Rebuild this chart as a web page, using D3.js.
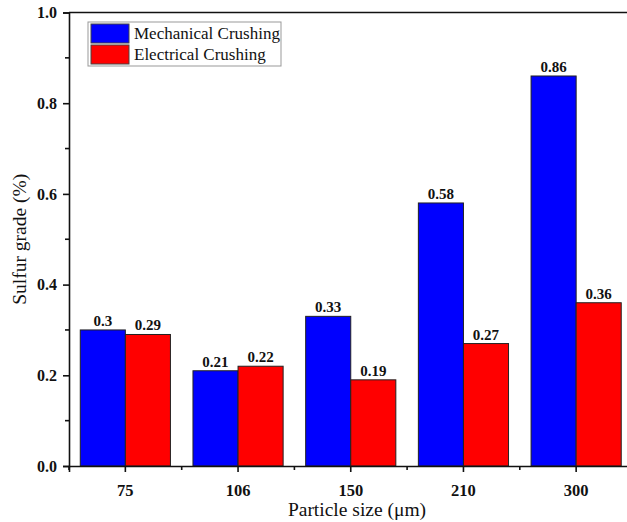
<!DOCTYPE html>
<html>
<head>
<meta charset="utf-8">
<script src="https://cdn.jsdelivr.net/npm/d3@7"></script>
<style>
  html, body { margin: 0; padding: 0; background: #fff; }
  svg { display: block; font-family: "Liberation Serif", "Times New Roman", serif; }
</style>
</head>
<body>
<svg id="chart" width="627" height="522"></svg>
<script>
// Particle size categories (µm)
const categories = ["75", "106", "150", "210", "300"];
// Series names and sulfur grade values (%)
const seriesNames = ["Mechanical Crushing", "Electrical Crushing"];
const mechanical = [0.3, 0.21, 0.33, 0.58, 0.86];
const electrical = [0.29, 0.22, 0.19, 0.27, 0.36];
const seriesColors = ["#0000ff", "#ff0000"];
const yTicks = [0.0, 0.2, 0.4, 0.6, 0.8, 1.0];
const yMinorTicks = [0.1, 0.3, 0.5, 0.7, 0.9];

const svg = d3.select("#chart");
const plotLeft = 69, plotTop = 12.5, plotBottom = 466, plotRight = 632.5;
const serif = "Liberation Serif, Times New Roman, serif";

const x0 = d3.scaleBand().domain(categories).range([plotLeft, plotRight]).padding(0);
const bw = x0.bandwidth();
const x1 = d3.scaleBand().domain(seriesNames).range([0.1 * bw, 0.9 * bw]).padding(0);
const y = d3.scaleLinear().domain([0, 1]).range([plotBottom, plotTop]);

const seriesValues = [mechanical, electrical];

// Bars
const groups = svg.append("g").selectAll("g")
  .data(categories)
  .join("g")
  .attr("transform", c => `translate(${x0(c)},0)`);

groups.selectAll("rect")
  .data((c, i) => seriesNames.map((s, k) => ({ s, k, v: seriesValues[k][i] })))
  .join("rect")
  .attr("x", d => x1(d.s))
  .attr("width", x1.bandwidth())
  .attr("y", d => y(d.v))
  .attr("height", d => y(0) - y(d.v))
  .attr("fill", d => seriesColors[d.k])
  .attr("stroke", "#222")
  .attr("stroke-width", 1);

// Value labels
groups.selectAll("text")
  .data((c, i) => seriesNames.map((s, k) => ({ s, k, v: seriesValues[k][i] })))
  .join("text")
  .attr("x", d => x1(d.s) + x1.bandwidth() / 2)
  .attr("y", d => y(d.v) - 4)
  .attr("text-anchor", "middle")
  .attr("font-family", serif)
  .attr("font-size", 15)
  .attr("font-weight", "bold")
  .attr("fill", "#111")
  .text(d => String(d.v));

// Y axis
const yAxis = d3.axisLeft(y).tickValues(yTicks).tickFormat(d3.format(".1f")).tickSizeOuter(0).tickSize(6).tickPadding(6);
const gy = svg.append("g").attr("transform", `translate(${plotLeft},0)`).call(yAxis);
gy.select(".domain").attr("stroke", "#111").attr("stroke-width", 1.6);
gy.selectAll(".tick line").attr("stroke", "#111").attr("stroke-width", 1.6);
gy.selectAll(".tick text").attr("font-size", 16).attr("font-weight", "bold").attr("font-family", serif).attr("fill", "#111");
gy.selectAll(".minor").data(yMinorTicks).join("line")
  .attr("class", "minor")
  .attr("x1", 0).attr("x2", -4)
  .attr("y1", d => y(d)).attr("y2", d => y(d))
  .attr("stroke", "#111").attr("stroke-width", 1.6);

// X axis
const xAxis = d3.axisBottom(x0).tickSizeOuter(0).tickSize(6).tickPadding(12);
const gx = svg.append("g").attr("transform", `translate(0,${plotBottom})`).call(xAxis);
gx.select(".domain").attr("stroke", "#111").attr("stroke-width", 1.6);
gx.selectAll(".tick line").attr("stroke", "#111").attr("stroke-width", 1.6);
gx.selectAll(".tick text").attr("font-size", 16.5).attr("font-weight", "bold").attr("font-family", serif).attr("fill", "#111");
gx.selectAll(".minor").data(categories).join("line")
  .attr("class", "minor")
  .attr("x1", c => x0(c)).attr("x2", c => x0(c))
  .attr("y1", 0).attr("y2", 4)
  .attr("stroke", "#111").attr("stroke-width", 1.6);

// Top frame line
svg.append("line")
  .attr("x1", plotLeft).attr("x2", 627)
  .attr("y1", plotTop).attr("y2", plotTop)
  .attr("stroke", "#111").attr("stroke-width", 1.6);

// Axis titles
svg.append("text")
  .attr("x", 357)
  .attr("y", 516)
  .attr("text-anchor", "middle")
  .attr("font-family", serif)
  .attr("font-size", 19.5)
  .attr("fill", "#111")
  .text("Particle size (μm)");

svg.append("text")
  .attr("transform", `translate(26,${(plotTop + plotBottom) / 2}) rotate(-90)`)
  .attr("text-anchor", "middle")
  .attr("font-family", serif)
  .attr("font-size", 19.5)
  .attr("fill", "#111")
  .text("Sulfur grade (%)");

// Legend
const legend = svg.append("g").attr("transform", "translate(88,22)");
legend.append("rect")
  .attr("x", 0).attr("y", 0).attr("width", 193).attr("height", 44)
  .attr("fill", "#fff").attr("stroke", "#999").attr("stroke-width", 1);
seriesNames.forEach((s, k) => {
  legend.append("rect")
    .attr("x", 3).attr("y", 2 + k * 21).attr("width", 38).attr("height", 19)
    .attr("fill", seriesColors[k]).attr("stroke", "#444").attr("stroke-width", 1);
  legend.append("text")
    .attr("x", 46).attr("y", 17 + k * 21)
    .attr("font-family", serif)
    .attr("font-size", 17)
    .attr("fill", "#111")
    .text(s);
});
</script>
</body>
</html>
